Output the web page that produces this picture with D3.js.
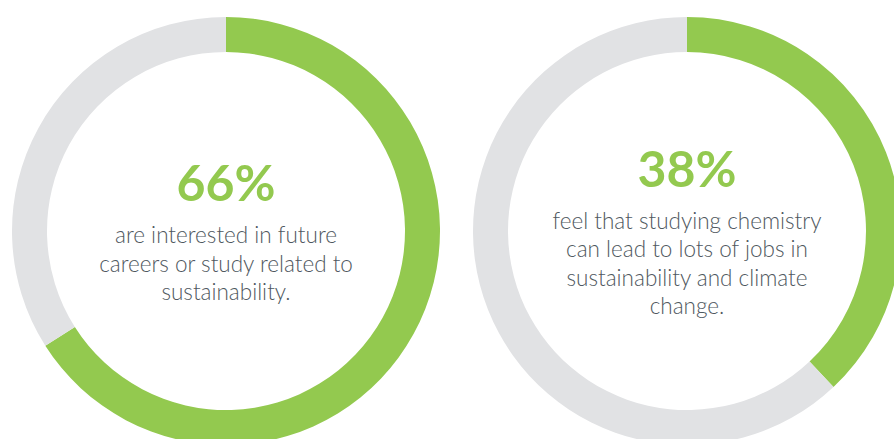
<!DOCTYPE html>
<html>
<head>
<meta charset="utf-8">
<script src="https://cdn.jsdelivr.net/npm/d3@7"></script>
<style>
  html, body { margin: 0; padding: 0; background: #fff; }
  svg { display: block; }
</style>
</head>
<body>
<div class="container"></div>
<script>
const WIDTH = 894,
    HEIGHT = 439,
    OUTER_R = 214,
    INNER_R = 179,
    GREEN = '#93c94f',
    GREY = '#e1e2e4',
    TEXT = '#4f5860';

// survey shares, in percent
const shares = [66, 38];
const centersX = [226, 687];
const captions = [
    ['are interested in future', 'careers or study related to', 'sustainability.'],
    ['feel that studying chemistry', 'can lead to lots of jobs in', 'sustainability and climate', 'change.']
];

const CY = 231,
    LINE_H = 28.5,
    GAP = 43;

var pie = d3.pie().sort(null).value((d) => d);
var arc = d3.arc().innerRadius(INNER_R).outerRadius(OUTER_R);

var svg = d3.select('.container').append('svg')
    .attr('width', WIDTH)
    .attr('height', HEIGHT);

var addDonut = (share, cx, lines) => {
    var g = svg.append('g')
        .attr('transform', `translate(${cx},${CY})`);

    g.selectAll('path')
        .data(pie([share, 100 - share]))
        .enter().append('path')
        .attr('d', arc)
        .attr('fill', (d, i) => i === 0 ? GREEN : GREY);

    var top = 19 - (GAP + (lines.length - 1) * LINE_H) / 2;

    g.append('text')
        .attr('text-anchor', 'middle')
        .attr('y', top + 1)
        .attr('fill', GREEN)
        .style('font', '700 50px Lato, sans-serif')
        .text(share + '%');

    g.selectAll('.caption')
        .data(lines)
        .enter().append('text')
        .classed('caption', true)
        .attr('text-anchor', 'middle')
        .attr('y', (d, i) => top + GAP + i * LINE_H)
        .attr('fill', TEXT)
        .style('font', '300 22.5px Lato, sans-serif')
        .text((d) => d);
}

shares.forEach((s, i) => addDonut(s, centersX[i], captions[i]));
</script>
</body>
</html>
